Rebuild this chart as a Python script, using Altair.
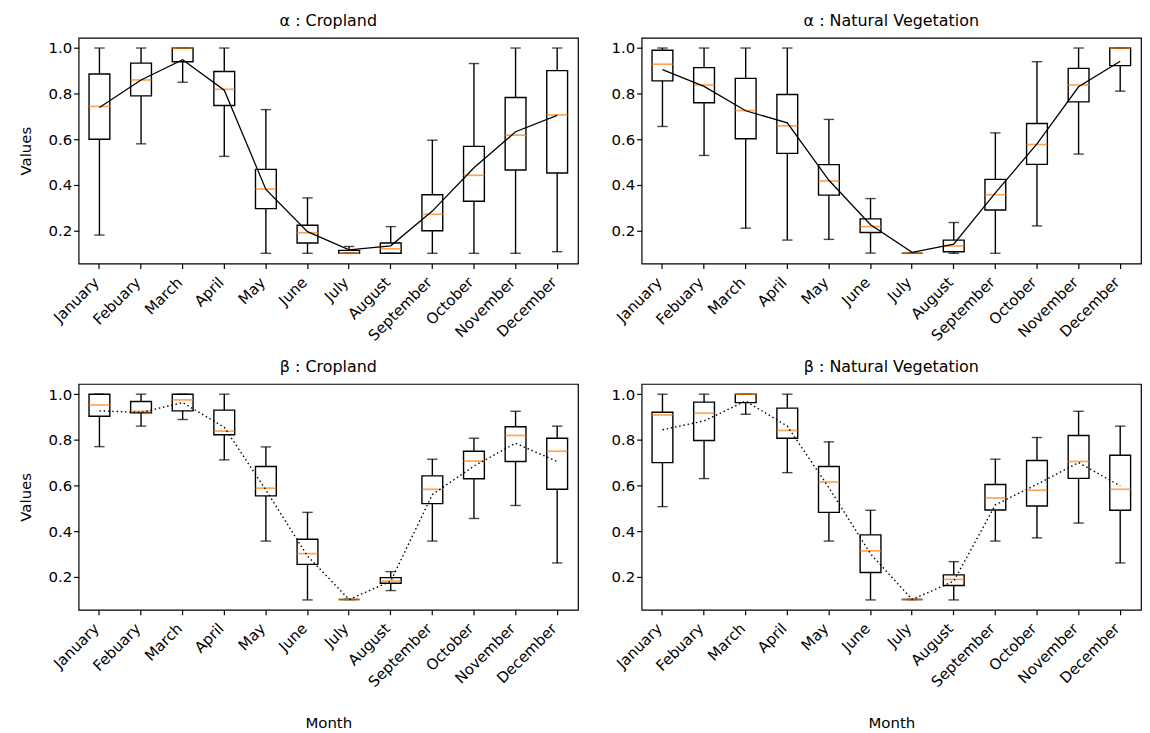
import altair as alt
import pandas as pd

months = ["January", "Febuary", "March", "April", "May", "June", "July",
          "August", "September", "October", "November", "December"]

# α : Cropland
a_low = [0.18, 0.58, 0.85, 0.525, 0.10, 0.10, 0.10, 0.10, 0.10, 0.10, 0.10, 0.107]
a_q1 = [0.60, 0.79, 0.94, 0.748, 0.296, 0.145, 0.10, 0.10, 0.199, 0.328, 0.465, 0.452]
a_med = [0.744, 0.86, 1.0, 0.819, 0.382, 0.19, 0.10, 0.12, 0.271, 0.442, 0.618, 0.707]
a_q3 = [0.886, 0.934, 1.0, 0.897, 0.468, 0.223, 0.113, 0.145, 0.357, 0.569, 0.783, 0.901]
a_high = [1.0, 1.0, 1.0, 1.0, 0.73, 0.343, 0.13, 0.217, 0.596, 0.932, 1.0, 1.0]
a_mean = [0.739, 0.86, 0.949, 0.815, 0.38, 0.195, 0.115, 0.133, 0.285, 0.475, 0.633, 0.705]

# α : Natural Vegetation
b_low = [0.656, 0.529, 0.21, 0.158, 0.161, 0.101, 0.10, 0.10, 0.10, 0.22, 0.535, 0.811]
b_q1 = [0.856, 0.76, 0.602, 0.538, 0.355, 0.191, 0.10, 0.107, 0.29, 0.49, 0.764, 0.923]
b_med = [0.929, 0.838, 0.726, 0.659, 0.417, 0.217, 0.10, 0.132, 0.357, 0.577, 0.838, 1.0]
b_q3 = [0.99, 0.914, 0.867, 0.796, 0.489, 0.251, 0.10, 0.158, 0.424, 0.669, 0.911, 1.0]
b_high = [1.0, 1.0, 1.0, 1.0, 0.687, 0.34, 0.10, 0.235, 0.628, 0.94, 1.0, 1.0]
b_mean = [0.905, 0.832, 0.725, 0.672, 0.42, 0.225, 0.104, 0.14, 0.365, 0.58, 0.83, 0.942]

# β : Cropland
c_low = [0.77, 0.86, 0.889, 0.712, 0.356, 0.098, 0.10, 0.139, 0.356, 0.455, 0.512, 0.26]
c_q1 = [0.903, 0.918, 0.927, 0.822, 0.554, 0.254, 0.10, 0.171, 0.52, 0.629, 0.705, 0.583]
c_med = [0.953, 0.925, 0.975, 0.838, 0.588, 0.301, 0.10, 0.181, 0.583, 0.707, 0.819, 0.75]
c_q3 = [1.0, 0.968, 1.0, 0.93, 0.683, 0.364, 0.10, 0.196, 0.642, 0.75, 0.857, 0.807]
c_high = [1.0, 1.0, 1.0, 1.0, 0.769, 0.482, 0.10, 0.222, 0.715, 0.807, 0.925, 0.86]
c_mean = [0.927, 0.92, 0.963, 0.855, 0.58, 0.29, 0.10, 0.18, 0.56, 0.685, 0.785, 0.705]

# β : Natural Vegetation
d_low = [0.507, 0.63, 0.912, 0.656, 0.356, 0.098, 0.10, 0.098, 0.356, 0.37, 0.435, 0.26]
d_q1 = [0.70, 0.797, 0.963, 0.807, 0.482, 0.218, 0.10, 0.161, 0.492, 0.51, 0.631, 0.491]
d_med = [0.909, 0.917, 1.0, 0.841, 0.615, 0.313, 0.10, 0.188, 0.545, 0.579, 0.705, 0.583]
d_q3 = [0.921, 0.965, 1.0, 0.939, 0.683, 0.383, 0.10, 0.208, 0.604, 0.709, 0.819, 0.732]
d_high = [1.0, 1.0, 1.0, 1.0, 0.791, 0.491, 0.10, 0.266, 0.715, 0.81, 0.925, 0.86]
d_mean = [0.844, 0.883, 0.97, 0.86, 0.59, 0.30, 0.10, 0.18, 0.515, 0.605, 0.70, 0.598]

titles = ["α : Cropland", "α : Natural Vegetation", "β : Cropland", "β : Natural Vegetation"]

PW, PH = 502, 227
BAND = PW / 12
FONT = "DejaVu Sans"


def make_panel(title, low, q1, med, q3, high, mean, y_title, x_title, dotted):
    df = pd.DataFrame({"month": months, "low": low, "q1": q1, "med": med,
                       "q3": q3, "high": high, "mean": mean})
    xenc = alt.X("month:N", sort=months,
                 scale=alt.Scale(paddingInner=0, paddingOuter=0),
                 axis=alt.Axis(title=x_title, labelAngle=-45, labelAlign="right",
                               labelBaseline="top", labelOffset=-8, labelPadding=6,
                               titlePadding=26))
    yscale = alt.Scale(domain=[0.055, 1.045], nice=False, zero=False)
    yaxis = alt.Axis(title=y_title, values=[0.2, 0.4, 0.6, 0.8, 1.0], format=".1f",
                     titlePadding=15)

    def Y(field):
        return alt.Y(f"{field}:Q", scale=yscale, axis=yaxis)

    base = alt.Chart(df)
    wl = base.mark_rule(color="black", strokeWidth=1.4).encode(x=xenc, y=Y("low"), y2="q1:Q")
    wh = base.mark_rule(color="black", strokeWidth=1.4).encode(x=xenc, y=Y("q3"), y2="high:Q")
    box = base.mark_bar(fillOpacity=0, stroke="black", strokeWidth=1.4,
                        width=alt.RelativeBandSize(0.5)).encode(x=xenc, y=Y("q1"), y2="q3:Q")
    cap_l = base.mark_tick(color="black", size=BAND * 0.25, thickness=1.4).encode(x=xenc, y=Y("low"))
    cap_h = base.mark_tick(color="black", size=BAND * 0.25, thickness=1.4).encode(x=xenc, y=Y("high"))
    medt = base.mark_tick(color="#ff7f0e", size=BAND * 0.5, thickness=1.7).encode(x=xenc, y=Y("med"))
    if dotted:
        line = base.mark_line(color="black", strokeWidth=1.4, strokeDash=[1.5, 2.8]).encode(x=xenc, y=Y("mean"))
    else:
        line = base.mark_line(color="black", strokeWidth=1.3).encode(x=xenc, y=Y("mean"))
    return alt.layer(wl, wh, box, cap_l, cap_h, medt, line).properties(
        width=PW, height=PH,
        title=alt.TitleParams(text=title, fontSize=16, fontWeight="normal", font=FONT,
                              color="black", offset=9))


pA = make_panel(titles[0], a_low, a_q1, a_med, a_q3, a_high, a_mean, "Values", None, False)
pB = make_panel(titles[1], b_low, b_q1, b_med, b_q3, b_high, b_mean, None, None, False)
pC = make_panel(titles[2], c_low, c_q1, c_med, c_q3, c_high, c_mean, "Values", "Month", True)
pD = make_panel(titles[3], d_low, d_q1, d_med, d_q3, d_high, d_mean, None, "Month", True)

chart = alt.vconcat(
    alt.hconcat(pA, pB, spacing=31),
    alt.hconcat(pC, pD, spacing=31),
    spacing=14,
).properties(
    padding={"left": 9, "top": 2, "right": 0, "bottom": 0}
).configure_view(
    stroke="black", strokeWidth=1.2
).configure_axis(
    labelFont=FONT, labelFontSize=15, labelColor="black",
    titleFont=FONT, titleFontSize=15, titleFontWeight="normal", titleColor="black",
    tickColor="black", tickSize=5, tickWidth=1.2, domain=False, grid=False
)

chart.save("out.html", embed_options={"renderer": "svg", "actions": False})
